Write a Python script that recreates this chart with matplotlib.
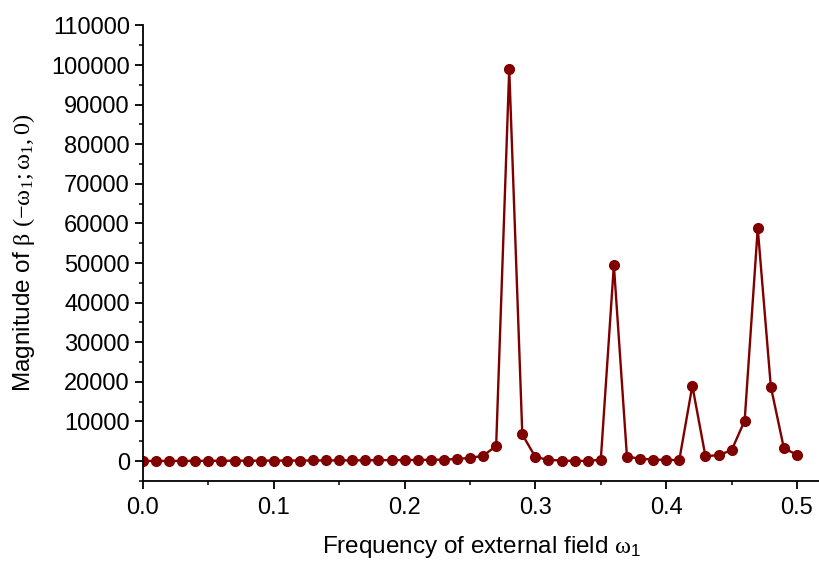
import numpy as np
import matplotlib
matplotlib.use("Agg")
import matplotlib.pyplot as plt
from matplotlib.ticker import MultipleLocator, FormatStrFormatter

freq = [round(0.01 * i, 2) for i in range(51)]
magnitude = [
    0, 10, 20, 30, 40, 50, 60, 70, 80, 90,
    100, 110, 120, 130, 140, 150, 160, 180, 200, 220,
    240, 270, 300, 350, 500, 800, 1300, 3800, 99000, 6700,
    1000, 300, 100, 20, 40, 300, 49500, 1100, 600, 350,
    300, 200, 19000, 1200, 1500, 2700, 10200, 58800, 18800, 3200,
    1600,
]

plt.rcParams['font.family'] = ['Liberation Sans', 'DejaVu Sans']
plt.rcParams['mathtext.fontset'] = 'custom'
plt.rcParams['mathtext.rm'] = 'Liberation Serif'
plt.rcParams['mathtext.it'] = 'Liberation Serif:italic'
plt.rcParams['mathtext.sf'] = 'Liberation Sans'

fig = plt.figure(figsize=(8.2, 5.61), dpi=100)
ax = fig.add_axes([143/820, (561-481)/561, 677/820, (481-25.5)/561])
color = '#800000'
ax.plot(freq, magnitude, '-o', color=color, lw=1.7, markersize=7)

ax.set_xlim(0, 0.5176)
ax.set_ylim(-5050, 110000)
ax.xaxis.set_major_locator(MultipleLocator(0.1))
ax.xaxis.set_minor_locator(MultipleLocator(0.05))
ax.yaxis.set_major_locator(MultipleLocator(10000))
ax.yaxis.set_minor_locator(MultipleLocator(5000))
ax.xaxis.set_major_formatter(FormatStrFormatter('%.1f'))
ax.yaxis.set_major_formatter(FormatStrFormatter('%d'))
for s in ['top', 'right']:
    ax.spines[s].set_visible(False)
for s in ['left', 'bottom']:
    ax.spines[s].set_linewidth(1.3)
ax.tick_params(which='major', direction='out', length=5.5, width=1.3, labelsize=17, pad=4)
ax.tick_params(axis='x', which='major', pad=6)
ax.tick_params(which='minor', direction='out', length=3, width=1.1)

ax.set_xlabel(r'Frequency of external field $\mathrm{\omega}_{\mathsf{1}}$', fontsize=17.5, labelpad=11)
ax.set_ylabel(r'Magnitude of $\mathrm{\beta\ (-\omega_1;\omega_1,0)}$', fontsize=17.5, labelpad=10)

fig.savefig('out.png', dpi=100)
